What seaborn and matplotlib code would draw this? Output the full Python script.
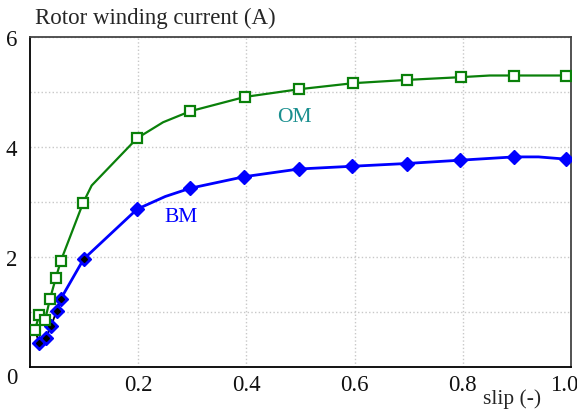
import matplotlib
matplotlib.use('Agg')
import matplotlib.pyplot as plt
import matplotlib.transforms as mtransforms
import pandas as pd
import seaborn as sns
from matplotlib.ticker import FixedLocator

# slip values and rotor currents
om_slip = [0.009, 0.017, 0.028, 0.037, 0.0475, 0.057, 0.098, 0.198, 0.296, 0.397, 0.497, 0.597, 0.697, 0.797, 0.895, 0.99]
om_current = [0.67, 0.945, 0.86, 1.24, 1.61, 1.93, 2.98, 4.16, 4.65, 4.91, 5.05, 5.16, 5.22, 5.27, 5.30, 5.30]

bm_slip = [0.017, 0.029, 0.039, 0.049, 0.057, 0.099, 0.198, 0.296, 0.396, 0.497, 0.596, 0.696, 0.795, 0.895, 0.99]
bm_current = [0.44, 0.53, 0.74, 1.02, 1.24, 1.96, 2.87, 3.25, 3.46, 3.60, 3.65, 3.70, 3.76, 3.82, 3.78]

# curve traces (marker points plus a few bends seen on the lines)
om_line_slip = [0.009, 0.017, 0.028, 0.037, 0.0475, 0.057, 0.098, 0.114, 0.198, 0.246, 0.296, 0.397, 0.497, 0.597, 0.697, 0.797, 0.85, 0.895, 0.99]
om_line_current = [0.67, 0.945, 0.86, 1.24, 1.61, 1.93, 2.98, 3.30, 4.16, 4.45, 4.65, 4.91, 5.05, 5.16, 5.22, 5.27, 5.30, 5.30, 5.30]
bm_line_slip = [0.049, 0.057, 0.099, 0.198, 0.25, 0.296, 0.396, 0.497, 0.596, 0.696, 0.795, 0.895, 0.94, 0.99]
bm_line_current = [1.02, 1.24, 1.96, 2.87, 3.10, 3.25, 3.46, 3.60, 3.65, 3.70, 3.76, 3.82, 3.82, 3.78]

# black trace hidden under the low-slip points
blk_slip = [0.009, 0.017, 0.029, 0.039, 0.049, 0.057]
blk_current = [0.67, 0.44, 0.53, 0.74, 1.02, 1.24]
blk_mark_slip = [0.017, 0.029, 0.039, 0.049, 0.057, 0.099]
blk_mark_current = [0.44, 0.53, 0.74, 1.02, 1.24, 1.96]

y_ticks = [0, 2, 4, 6]
x_ticks = [0.2, 0.4, 0.6, 0.8, 1.0]
x_tick_labels = ['0.2', '0.4', '0.6', '0.8', '1.0']

sns.set_theme(style='white')
plt.rcParams['font.family'] = ['Liberation Serif', 'DejaVu Serif']

fig = plt.figure(figsize=(5.77, 4.10), dpi=100)
ax = fig.add_axes([30 / 577, 1 - 368 / 410, 541 / 577, 330 / 410])

om_line = pd.DataFrame({'slip': om_line_slip, 'current': om_line_current})
bm_line = pd.DataFrame({'slip': bm_line_slip, 'current': bm_line_current})
om = pd.DataFrame({'slip': om_slip, 'current': om_current})
bm = pd.DataFrame({'slip': bm_slip, 'current': bm_current})
blk = pd.DataFrame({'slip': blk_slip, 'current': blk_current})

sns.lineplot(data=om_line, x='slip', y='current', sort=False, color='#0a800a', lw=1.6, ax=ax, zorder=3)
sns.lineplot(data=bm_line, x='slip', y='current', sort=False, color='#0000ff', lw=2.0, ax=ax, zorder=3)
sns.lineplot(data=blk, x='slip', y='current', sort=False, color='black', lw=1.3, ax=ax, zorder=4)
ax.plot(bm['slip'], bm['current'], ls='none', marker='D', ms=7, mfc='#0000ff', mec='#0000ff', zorder=5)
ax.plot(blk_mark_slip, blk_mark_current, ls='none', marker='D', ms=3, mfc='black', mec='black', zorder=6)
ax.plot(om['slip'], om['current'], ls='none', marker='s', ms=7, mfc='white', mec='#0a800a', mew=1.6, zorder=7)

ax.set_xlim(0, 1.0)
ax.set_ylim(0, 6)
ax.set_xticks(x_ticks)
ax.set_xticklabels(x_tick_labels)
ax.set_yticks(y_ticks)
ax.set_yticklabels([str(v) for v in y_ticks])
ax.yaxis.set_minor_locator(FixedLocator([1, 3, 5]))
ax.tick_params(axis='both', which='both', length=0, labelsize=16.5, colors='#111111')
ax.tick_params(axis='y', pad=9)
ax.tick_params(axis='x', pad=5)
ax.get_yticklabels()[0].set_va('top')
last = ax.get_xticklabels()[-1]
last.set_transform(last.get_transform() + mtransforms.ScaledTranslation(-7 / 100, 0, fig.dpi_scale_trans))
ax.grid(True, which='both', color='#c8c8c8', ls=':', lw=1.0)
ax.set_xlabel('')
ax.set_ylabel('')

for side in ['left', 'bottom']:
    ax.spines[side].set_color('black')
    ax.spines[side].set_linewidth(1.3)
for side in ['top', 'right']:
    ax.spines[side].set_color('#444444')
    ax.spines[side].set_linewidth(1.3)

ax.text(0.488, 4.55, 'OM', color='#1a8f8f', fontsize=15.5, ha='center', va='center')
ax.text(0.279, 2.73, 'BM', color='#0000ff', fontsize=15.5, ha='center', va='center')

fig.text(35 / 577, 1 - 18 / 410, 'Rotor winding current (A)', fontsize=16.5, ha='left', va='center')
fig.text(512 / 577, 1 / 410, 'slip (-)', fontsize=15.5, ha='center', va='bottom')

fig.savefig('out.png', dpi=100)
